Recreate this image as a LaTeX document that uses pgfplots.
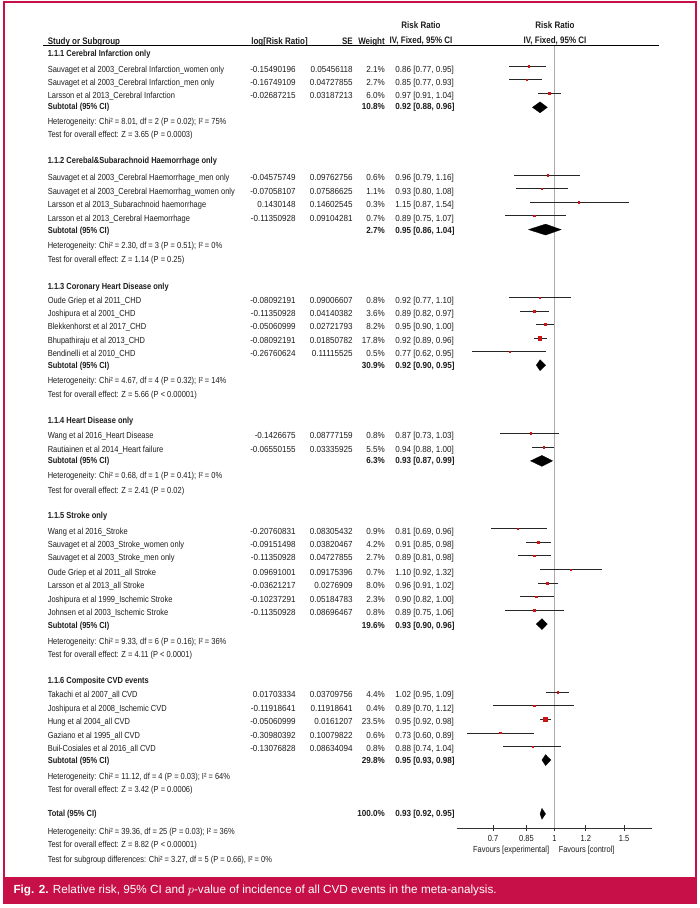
\documentclass[border=0pt]{standalone}
\usepackage{fontspec}
\setmainfont{Liberation Sans}[FakeStretch=0.85]
\newfontfamily\numfont{Liberation Sans}[FakeStretch=0.92]
\newfontfamily\capfont{Liberation Sans}
\usepackage{pgfplots}
\usepackage{pgfplotstable}
\pgfplotsset{compat=1.18}

\definecolor{frame}{RGB}{200,16,72}
\definecolor{mkred}{RGB}{205,20,20}
\definecolor{txt}{RGB}{30,30,30}

\newcommand\body{\fontsize{6.6}{8}\selectfont}
\newcommand\bodyb{\fontsize{6.6}{8}\selectfont\bfseries}
\newcommand\nums{\numfont\fontsize{6.6}{8}\selectfont}
\newcommand\numb{\numfont\fontsize{6.6}{8}\selectfont\bfseries}
\newcommand\head{\fontsize{7.05}{8.5}\selectfont\bfseries}

% one row per study: y = pixel row of the CI line, risk ratio with 95% CI, weight (%)
\pgfplotstableread{
y      rr    lo    hi    w
66.0   0.86  0.77  0.95  2.1
79.5   0.85  0.77  0.93  2.7
93.2   0.97  0.91  1.04  6.0
175.0  0.96  0.79  1.16  0.6
188.5  0.93  0.80  1.08  1.1
202.0  1.15  0.87  1.54  0.3
215.5  0.89  0.75  1.07  0.7
297.3  0.92  0.77  1.10  0.8
311.0  0.89  0.82  0.97  3.6
324.3  0.95  0.90  1.00  8.2
338.0  0.92  0.89  0.96  17.8
351.5  0.77  0.62  0.95  0.5
433.0  0.87  0.73  1.03  0.8
447.0  0.94  0.88  1.00  5.5
528.5  0.81  0.69  0.96  0.9
542.0  0.91  0.85  0.98  4.2
555.3  0.89  0.81  0.98  2.7
569.5  1.10  0.92  1.32  0.7
583.3  0.96  0.91  1.02  8.0
596.7  0.90  0.82  1.00  2.3
610.2  0.89  0.75  1.06  0.8
692.0  1.02  0.95  1.09  4.4
705.5  0.89  0.70  1.12  0.4
719.5  0.95  0.92  0.98  23.5
733.0  0.73  0.60  0.89  0.6
746.5  0.88  0.74  1.04  0.8
}\studies

% pooled diamond: y, rr, lo, hi
\newcommand\pooled[4]{%
  \pgfmathsetmacro\dy{-#1}\pgfmathsetmacro\dt{-#1+5.5}\pgfmathsetmacro\db{-#1-5.5}%
  \addplot[fill=black, draw=black, line width=0.2pt]
    coordinates {(#3,\dy) (#2,\dt) (#4,\dy) (#2,\db) (#3,\dy)};}

\tikzset{
  L/.style={anchor=west, inner sep=0pt, text height=4.7pt, text depth=0pt, font=\body, text=txt},
  R/.style={L, anchor=east},
  C/.style={L, anchor=center},
}

% y, name, log RR, SE, weight, RR [CI]
\newcommand\study[6]{%
  \node[L] at (47.5,#1) {#2};
  \node[R,font=\nums] at (296,#1) {#3};
  \node[R,font=\nums] at (353,#1) {#4};
  \node[R,font=\nums] at (385,#1) {#5\%};
  \node[L,font=\nums] at (395,#1) {#6};}
\newcommand\subtot[4]{%
  \node[L,font=\bodyb] at (47.5,#1) {#2};
  \node[R,font=\numb] at (385,#1) {#3\%};
  \node[L,font=\numb] at (395,#1) {#4};}
\newcommand\note[2]{\node[L] at (47.5,#1) {#2};}
\newcommand\grp[2]{\node[L,font=\bodyb] at (47.5,#1) {#2};}

\begin{document}
\begin{tikzpicture}[x=0.75pt, y=-0.75pt]
\fill[white] (0,0) rectangle (700,908);
\draw[frame, line width=1.1pt] (4,1.8) rectangle (696.2,903);
\fill[frame] (3.3,876.7) rectangle (697,903.3);
\node[anchor=west, inner sep=0pt, text=white, font=\capfont\fontsize{8.8}{10}\selectfont]
  at (13.3,890) {\textbf{Fig. 2.} Relative risk, 95\% CI and $p$-value of incidence of all CVD events in the meta-analysis.};

\coordinate (axSW) at (456.8,828.3);
\begin{axis}[
  at={(axSW)}, anchor=south west,
  scale only axis, width=146.4pt, height=587.2pt,
  xmode=log, xmin=0.567, xmax=1.7637,
  ymin=-828.3, ymax=-45,
  axis x line*=bottom, axis y line=none,
  xtick={0.7,0.85,1,1.2,1.5}, xticklabels={0.7,0.85,1,1.2,1.5},
  xminorticks=false, ytick=\empty,
  xtick align=center, major tick length=4.5pt,
  tick style={black!80, line width=0.6pt},
  axis line style={black!80, line width=0.6pt},
  xticklabel style={font=\body, text=txt, inner sep=0pt, text height=4.7pt, text depth=0pt, anchor=north, yshift=-3pt},
  clip=false,
]
\addplot[draw=black!33, line width=1.1pt] coordinates {(1,-45) (1,-828.3)};
% confidence intervals
\addplot[draw=none, mark=none,
  error bars/.cd, x dir=both, x explicit, error mark=none,
  error bar style={draw=black!85, line width=0.6pt, solid}]
  table[x=rr, y expr=-\thisrow{y},
        x error plus expr=\thisrow{hi}-\thisrow{rr},
        x error minus expr=\thisrow{rr}-\thisrow{lo}]{\studies};
% weight squares
\addplot[scatter, only marks, mark=square*,
  scatter/use mapped color={draw=mkred, fill=mkred},
  visualization depends on={\thisrow{w} \as \wt},
  scatter/@pre marker code/.append style={/tikz/mark size={max(0.45,0.3*sqrt(\wt))}, /tikz/line width=0.3pt}]
  table[x=rr, y expr=-\thisrow{y}]{\studies};
\pooled{107.0}{0.92}{0.88}{0.96}
\pooled{229.3}{0.95}{0.86}{1.04}
\pooled{365.0}{0.92}{0.90}{0.95}
\pooled{460.7}{0.93}{0.87}{0.99}
\pooled{624.0}{0.93}{0.90}{0.96}
\pooled{760.0}{0.95}{0.93}{0.98}
\pooled{813.8}{0.93}{0.92}{0.95}
\end{axis}

% header
\node[C,font=\head] at (421,25) {Risk Ratio};
\node[C,font=\head] at (421,40.5) {IV, Fixed, 95\% CI};
\node[C,font=\head] at (555,25) {Risk Ratio};
\node[C,font=\head] at (555,40.5) {IV, Fixed, 95\% CI};
\node[L,font=\head] at (47.5,41.5) {Study or Subgroup};
\node[R,font=\head] at (308,41.5) {log[Risk Ratio]};
\node[R,font=\head] at (353,41.5) {SE};
\node[R,font=\head] at (385,41.5) {Weight};
\draw[black, line width=0.75pt] (43,45) -- (659,45);

\grp{53.3}{1.1.1 Cerebral Infarction only}
\study{69}{Sauvaget et al 2003\_Cerebral Infarction\_women only}{-0.15490196}{0.05456118}{2.1}{0.86 [0.77, 0.95]}
\study{82.3}{Sauvaget et al 2003\_Cerebral Infarction\_men only}{-0.16749109}{0.04727855}{2.7}{0.85 [0.77, 0.93]}
\study{95.7}{Larsson et al 2013\_Cerebral Infarction}{-0.02687215}{0.03187213}{6.0}{0.97 [0.91, 1.04]}
\subtot{106.5}{Subtotal (95\% CI)}{10.8}{0.92 [0.88, 0.96]}
\note{121.5}{Heterogeneity: Chi² = 8.01, df = 2 (P = 0.02); I² = 75\%}
\note{134.5}{Test for overall effect: Z = 3.65 (P = 0.0003)}

\grp{160.7}{1.1.2 Cerebal\&Subarachnoid Haemorrhage only}
\study{177.3}{Sauvaget et al 2003\_Cerebral Haemorrhage\_men only}{-0.04575749}{0.09762756}{0.6}{0.96 [0.79, 1.16]}
\study{191}{Sauvaget et al 2003\_Cerebral Haemorrhag\_women only}{-0.07058107}{0.07586625}{1.1}{0.93 [0.80, 1.08]}
\study{204.5}{Larsson et al 2013\_Subarachnoid haemorrhage}{0.1430148}{0.14602545}{0.3}{1.15 [0.87, 1.54]}
\study{218}{Larsson et al 2013\_Cerebral Haemorrhage}{-0.11350928}{0.09104281}{0.7}{0.89 [0.75, 1.07]}
\subtot{230}{Subtotal (95\% CI)}{2.7}{0.95 [0.86, 1.04]}
\note{245}{Heterogeneity: Chi² = 2.30, df = 3 (P = 0.51); I² = 0\%}
\note{259}{Test for overall effect: Z = 1.14 (P = 0.25)}

\grp{286}{1.1.3 Coronary Heart Disease only}
\study{300}{Oude Griep et al 2011\_CHD}{-0.08092191}{0.09006607}{0.8}{0.92 [0.77, 1.10]}
\study{313.7}{Joshipura et al 2001\_CHD}{-0.11350928}{0.04140382}{3.6}{0.89 [0.82, 0.97]}
\study{326.7}{Blekkenhorst et al 2017\_CHD}{-0.05060999}{0.02721793}{8.2}{0.95 [0.90, 1.00]}
\study{340}{Bhupathiraju et al 2013\_CHD}{-0.08092191}{0.01850782}{17.8}{0.92 [0.89, 0.96]}
\study{353.3}{Bendinelli et al 2010\_CHD}{-0.26760624}{0.11115525}{0.5}{0.77 [0.62, 0.95]}
\subtot{365}{Subtotal (95\% CI)}{30.9}{0.92 [0.90, 0.95]}
\note{380.7}{Heterogeneity: Chi² = 4.67, df = 4 (P = 0.32); I² = 14\%}
\note{394}{Test for overall effect: Z = 5.66 (P < 0.00001)}

\grp{420}{1.1.4 Heart Disease only}
\study{435.7}{Wang et al 2016\_Heart Disease}{-0.1426675}{0.08777159}{0.8}{0.87 [0.73, 1.03]}
\study{449.3}{Rautiainen et al 2014\_Heart failure}{-0.06550155}{0.03335925}{5.5}{0.94 [0.88, 1.00]}
\subtot{460.7}{Subtotal (95\% CI)}{6.3}{0.93 [0.87, 0.99]}
\note{475.7}{Heterogeneity: Chi² = 0.68, df = 1 (P = 0.41); I² = 0\%}
\note{490}{Test for overall effect: Z = 2.41 (P = 0.02)}

\grp{515.7}{1.1.5 Stroke only}
\study{531}{Wang et al 2016\_Stroke}{-0.20760831}{0.08305432}{0.9}{0.81 [0.69, 0.96]}
\study{544.3}{Sauvaget et al 2003\_Stroke\_women only}{-0.09151498}{0.03820467}{4.2}{0.91 [0.85, 0.98]}
\study{557.7}{Sauvaget et al 2003\_Stroke\_men only}{-0.11350928}{0.04727855}{2.7}{0.89 [0.81, 0.98]}
\study{572.3}{Oude Griep et al 2011\_all Stroke}{0.09691001}{0.09175396}{0.7}{1.10 [0.92, 1.32]}
\study{585.7}{Larsson et al 2013\_all Stroke}{-0.03621217}{0.0276909}{8.0}{0.96 [0.91, 1.02]}
\study{599.3}{Joshipura et al 1999\_Ischemic Stroke}{-0.10237291}{0.05184783}{2.3}{0.90 [0.82, 1.00]}
\study{612.7}{Johnsen et al 2003\_Ischemic Stroke}{-0.11350928}{0.08696467}{0.8}{0.89 [0.75, 1.06]}
\subtot{625}{Subtotal (95\% CI)}{19.6}{0.93 [0.90, 0.96]}
\note{641}{Heterogeneity: Chi² = 9.33, df = 6 (P = 0.16); I² = 36\%}
\note{654.7}{Test for overall effect: Z = 4.11 (P < 0.0001)}

\grp{680}{1.1.6 Composite CVD events}
\study{694.5}{Takachi et al 2007\_all CVD}{0.01703334}{0.03709756}{4.4}{1.02 [0.95, 1.09]}
\study{708}{Joshipura et al 2008\_Ischemic CVD}{-0.11918641}{0.11918641}{0.4}{0.89 [0.70, 1.12]}
\study{721.7}{Hung et al 2004\_all CVD}{-0.05060999}{0.0161207}{23.5}{0.95 [0.92, 0.98]}
\study{735}{Gaziano et al 1995\_all CVD}{-0.30980392}{0.10079822}{0.6}{0.73 [0.60, 0.89]}
\study{748.7}{Buil-Cosiales et al 2016\_all CVD}{-0.13076828}{0.08634094}{0.8}{0.88 [0.74, 1.04]}
\subtot{760.5}{Subtotal (95\% CI)}{29.8}{0.95 [0.93, 0.98]}
\note{776.7}{Heterogeneity: Chi² = 11.12, df = 4 (P = 0.03); I² = 64\%}
\note{789.3}{Test for overall effect: Z = 3.42 (P = 0.0006)}

\subtot{813.3}{Total (95\% CI)}{100.0}{0.93 [0.92, 0.95]}
\note{831}{Heterogeneity: Chi² = 39.36, df = 25 (P = 0.03); I² = 36\%}
\note{844.3}{Test for overall effect: Z = 8.82 (P < 0.00001)}
\note{859}{Test for subgroup differences: Chi² = 3.27, df = 5 (P = 0.66), I² = 0\%}

\node[R] at (549.5,849.3) {Favours [experimental]};
\node[L] at (558.5,849.3) {Favours [control]};
\end{tikzpicture}
\end{document}
